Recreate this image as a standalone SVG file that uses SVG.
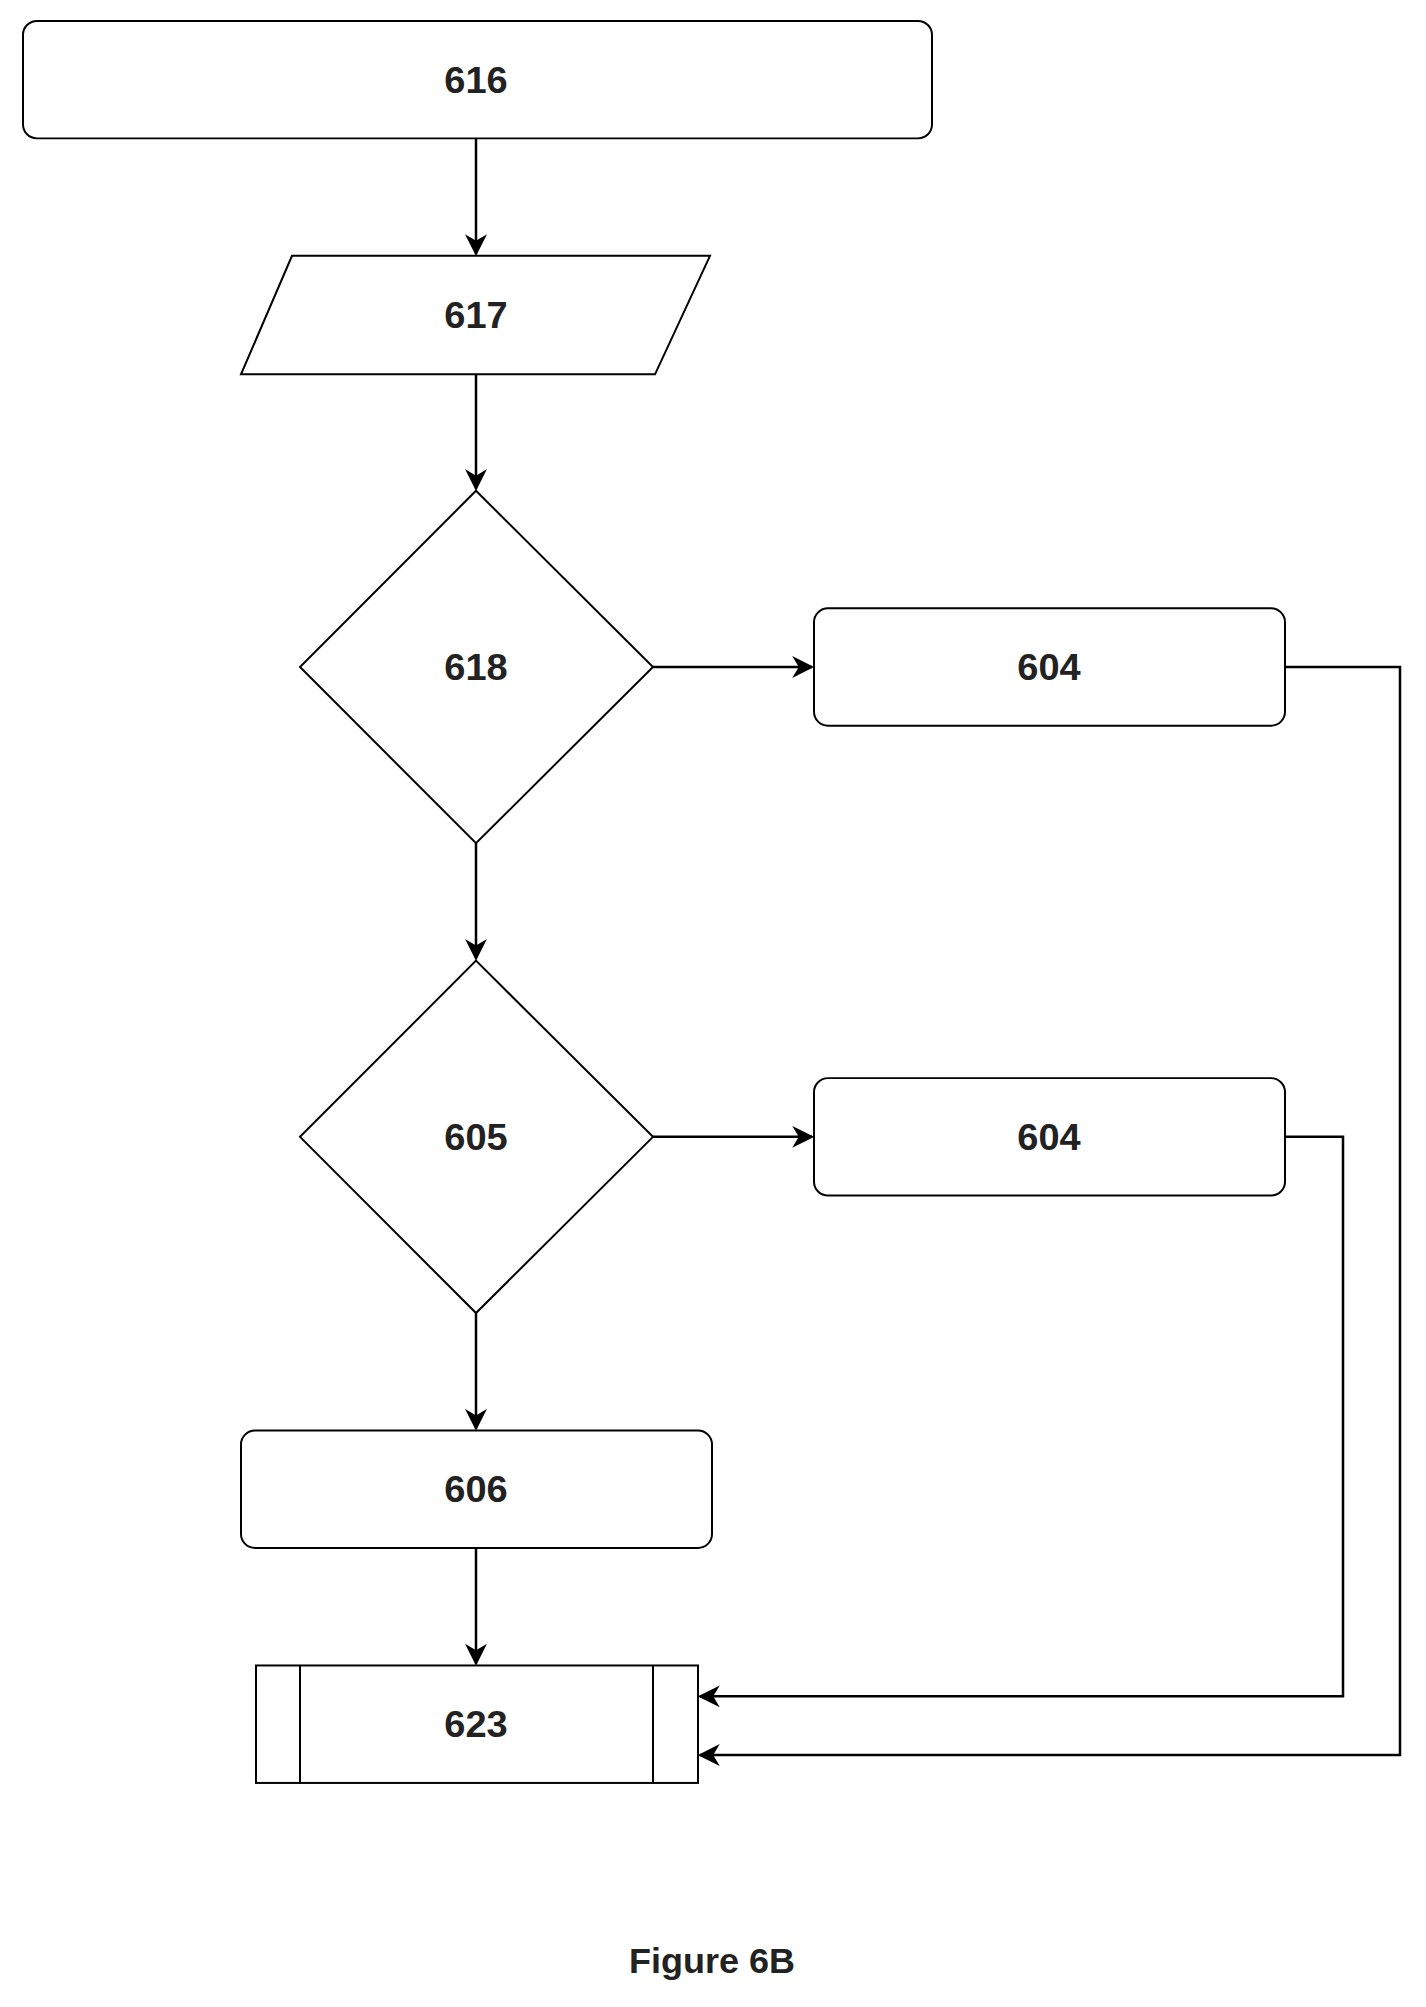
<svg xmlns="http://www.w3.org/2000/svg" width="1426" height="2007" viewBox="0 0 1426 2007">
<style>
.s{fill:#fff;stroke:#000;stroke-width:2}
.t{font-family:"Liberation Sans",Arial,sans-serif;font-size:38px;font-weight:bold;text-anchor:middle;dominant-baseline:central;fill:#222}
.c{fill:none;stroke:#000;stroke-width:2.5}
</style>
<defs>
<marker id="b" viewBox="0 0 10 10" refX="9" refY="5" markerWidth="22" markerHeight="22" markerUnits="userSpaceOnUse" orient="auto"><path d="M0,0 L10,5 L0,10 L3,5 Z" fill="#000"/></marker></defs>
<rect width="1426" height="2007" fill="#fff"/>
<g transform="scale(1,0.9955)">
<g id="connectors">
<path class="c" d="M476,139 V255" marker-end="url(#b)"/>
<path class="c" d="M476,376 V491" marker-end="url(#b)"/>
<path class="c" d="M653,670 H812" marker-end="url(#b)"/>
<path class="c" d="M476,847 V963" marker-end="url(#b)"/>
<path class="c" d="M653,1142 H812" marker-end="url(#b)"/>
<path class="c" d="M476,1319 V1435" marker-end="url(#b)"/>
<path class="c" d="M476,1555 V1671" marker-end="url(#b)"/>
<path class="c" d="M1285,1142 H1343 V1704 H700" marker-end="url(#b)"/>
<path class="c" d="M1285,670 H1400 V1763 H700" marker-end="url(#b)"/>
</g>
<g id="n616"><rect class="s" x="23" y="21" width="909" height="118" rx="14"/><text class="t" x="476" y="80">616</text></g>
<g id="n617"><polygon class="s" points="292,257 710,257 655,376 241,376"/><text class="t" x="476" y="316">617</text></g>
<g id="n618"><polygon class="s" points="476,493 653,670 476,847 300,670"/><text class="t" x="476" y="670">618</text></g>
<g id="n604a"><rect class="s" x="814" y="611" width="471" height="118" rx="14"/><text class="t" x="1049" y="670">604</text></g>
<g id="n605"><polygon class="s" points="476,965 653,1142 476,1319 300,1142"/><text class="t" x="476" y="1142">605</text></g>
<g id="n604b"><rect class="s" x="814" y="1083" width="471" height="118" rx="14"/><text class="t" x="1049" y="1142">604</text></g>
<g id="n606"><rect class="s" x="241" y="1437" width="471" height="118" rx="14"/><text class="t" x="476" y="1496">606</text></g>
<g id="n623"><rect class="s" x="256" y="1673" width="442" height="118"/><line class="s" x1="300" y1="1673" x2="300" y2="1791"/><line class="s" x1="653" y1="1673" x2="653" y2="1791"/><text class="t" x="476" y="1732">623</text></g>
<text class="t" x="712" y="1969" style="font-size:36px">Figure 6B</text>
</g>
</svg>
